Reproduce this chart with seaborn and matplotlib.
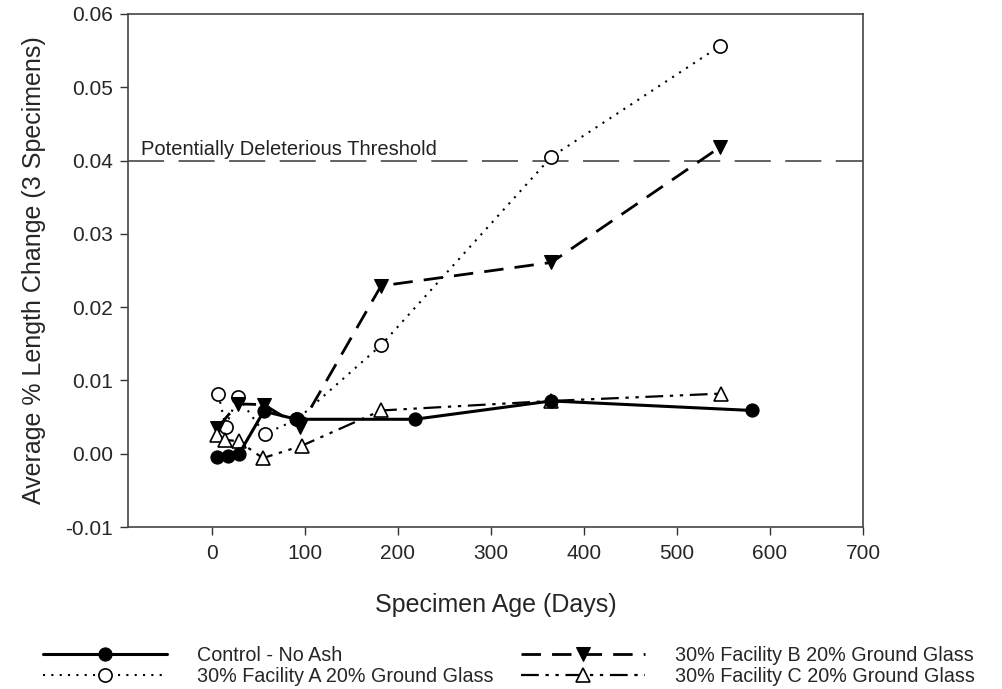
import matplotlib
matplotlib.use("Agg")
import matplotlib.pyplot as plt
import seaborn as sns
import numpy as np

# Data
control_days = [6, 18, 29, 56, 91, 218, 365, 581]
control_vals = [-0.0004, -0.0003, -0.0001, 0.0058, 0.0047, 0.0047, 0.0072, 0.0059]

facA_days = [7, 15, 28, 57, 92, 182, 365, 546]
facA_vals = [0.0082, 0.0037, 0.0078, 0.0027, 0.0047, 0.0148, 0.0405, 0.0556]

facB_days = [6, 28, 56, 95, 182, 365, 546]
facB_vals = [0.0035, 0.0068, 0.0067, 0.0037, 0.0229, 0.0261, 0.0418]

facC_days = [6, 14, 29, 55, 97, 182, 365, 547]
facC_vals = [0.0025, 0.0019, 0.0017, -0.0006, 0.0011, 0.0059, 0.0072, 0.0082]

threshold = 0.04
threshold_label = "Potentially Deleterious Threshold"

labels = ["Control - No Ash", "30% Facility A 20% Ground Glass",
          "30% Facility B 20% Ground Glass", "30% Facility C 20% Ground Glass"]

sns.set_theme(style="white")
plt.rcParams['font.family'] = ['Liberation Sans', 'DejaVu Sans']

fig = plt.figure(figsize=(10.03, 6.89), dpi=100)
ax = fig.add_axes([0.1276, 0.2351, 0.8604 - 0.1276, 0.9797 - 0.2351])

ax.axhline(threshold, color="#555555", lw=1.3, dashes=(20, 8), zorder=1)
ax.text(-76, threshold + 0.0002, threshold_label, fontsize=14.5, color="#222222",
        ha="left", va="bottom")

sns.lineplot(x=control_days, y=control_vals, ax=ax, color="black", lw=2.2,
             marker="o", markersize=9.5, markerfacecolor="black", markeredgecolor="black",
             label=labels[0], sort=False, zorder=5)
sns.lineplot(x=facA_days, y=facA_vals, ax=ax, color="black", lw=1.5,
             linestyle=(0, (1, 3)), marker="o", markersize=9.5,
             markerfacecolor="white", markeredgecolor="black", markeredgewidth=1.2,
             label=labels[1], sort=False, zorder=4)
sns.lineplot(x=facB_days, y=facB_vals, ax=ax, color="black", lw=2.0,
             linestyle=(0, (7, 4)), marker="v", markersize=9.5,
             markerfacecolor="black", markeredgecolor="black",
             label=labels[2], sort=False, zorder=4)
sns.lineplot(x=facC_days, y=facC_vals, ax=ax, color="black", lw=1.6,
             linestyle=(0, (8, 3, 1.5, 3, 1.5, 3)), marker="^", markersize=9.5,
             markerfacecolor="white", markeredgecolor="black", markeredgewidth=1.2,
             label=labels[3], sort=False, zorder=4)

ax.set_xlim(-90, 700)
ax.set_ylim(-0.01, 0.06)
ax.set_xticks(np.arange(0, 701, 100))
ax.set_yticks(np.arange(-0.01, 0.0601, 0.01))
ax.set_yticklabels([f"{v:.2f}" for v in np.arange(-0.01, 0.0601, 0.01)])
ax.tick_params(axis="both", direction="out", length=6, width=1, color="#333333",
               labelsize=15, bottom=True, left=True)
ax.tick_params(axis="x", pad=6)
ax.tick_params(axis="y", pad=5)
for s in ax.spines.values():
    s.set_color("#444444")
    s.set_linewidth(1.2)

ax.set_xlabel("Specimen Age (Days)", fontsize=18, labelpad=22)
ax.set_ylabel("Average % Length Change (3 Specimens)", fontsize=18, labelpad=14)

handles, lbls = ax.get_legend_handles_labels()
if ax.get_legend() is not None:
    ax.get_legend().remove()
fig.legend(handles, lbls, loc="upper left", bbox_to_anchor=(0.0429, 0.063), ncol=2,
           frameon=False, fontsize=14.2, handlelength=6.3, columnspacing=1.4,
           labelspacing=0.1, handletextpad=1.5, borderpad=0, borderaxespad=0)

fig.savefig("out.png", dpi=100)
